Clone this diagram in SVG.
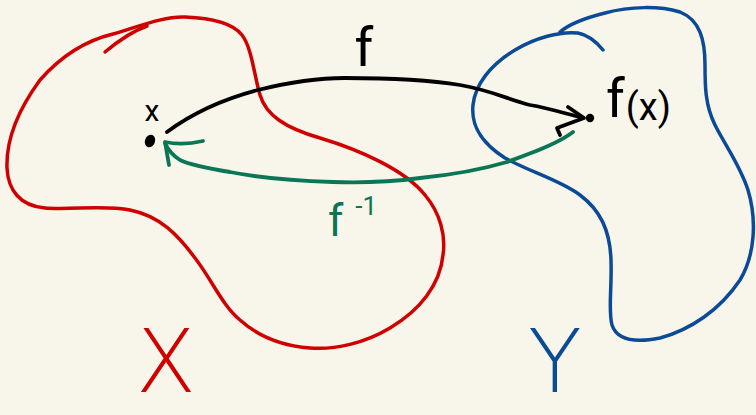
<svg xmlns="http://www.w3.org/2000/svg" width="756" height="415" viewBox="0 0 756 415">
<style>
.set{fill:none;stroke-width:3.5;stroke-linecap:round;stroke-linejoin:round}
.red{stroke:#d00000}
.blue{stroke:#0b4a96}
.arr{fill:none;stroke-width:3.8;stroke-linecap:round;stroke-linejoin:round}
.blk{stroke:#000}
.grn{stroke:#0a7656}
.lbl{font-family:Roboto,"Liberation Sans",sans-serif;font-weight:400}
.big{font-family:"DejaVu Sans ExtraLight","DejaVu Sans",sans-serif;font-weight:200}
</style>
<rect width="756" height="415" fill="#f8f6ea"/>
<g id="set-X">
<path class="set red" d="M 113,34 C 140,26 165,16 185,17 C 210,18 232,22 242,35 C 252,48 254,75 260,95 C 266,115 285,128 320,138 C 360,150 405,170 425,195 C 440,213 446,235 443,255 C 440,285 420,310 390,328 C 365,343 335,350 310,348 C 285,346 260,338 240,320 C 222,305 212,280 195,258 C 178,235 160,216 130,210 C 105,205 70,210 45,208 C 20,206 8,190 7,168 C 6,140 18,110 40,80 C 62,55 88,40 113,34"/>
<path class="set red" d="M 105,52 C 117,42 130,32 147,26"/>
<text class="big" x="166" y="392" font-size="88" fill="#d00000" text-anchor="middle">X</text>
</g>
<g id="set-Y">
<path class="set blue" d="M 603,50 C 595,40 588,35 578,33 C 560,31 535,38 515,50 C 490,65 475,85 473,105 C 471,125 480,142 505,158 C 530,172 560,180 580,195 C 600,210 610,230 611,260 C 612,290 608,310 612,325 C 617,340 635,343 660,338 C 690,330 720,310 740,280 C 755,255 757,220 748,190 C 740,165 725,145 715,125 C 705,105 705,85 705,65 C 705,40 700,20 680,12 C 660,6 630,6 605,13 C 585,18 568,25 560,32"/>
<text class="big" x="555" y="392" font-size="88" fill="#0b4a96" text-anchor="middle">Y</text>
</g>
<g id="point-x">
<ellipse cx="150" cy="141" rx="5" ry="6.5" transform="rotate(20 150 141)" fill="#000"/>
<text class="lbl" x="152" y="121" font-size="30" fill="#000" text-anchor="middle">x</text>
</g>
<g id="point-fx">
<circle cx="590" cy="118" r="4.2" fill="#000"/>
<text class="lbl" x="606" y="117" font-size="54" fill="#000">f<tspan font-size="38" dx="1" dy="3">(x)</tspan></text>
</g>
<g id="connectors">
<g id="edge-f">
<path class="arr blk" d="M 167,132 C 190,115 220,100 258,90 C 290,82 320,78 345,78 C 390,78 430,80 460,85 C 490,90 510,100 530,105 C 548,108 560,112 583,118"/>
<path class="arr blk" d="M 568,107 L 584,118 L 557,128 L 560,135"/>
<text class="lbl" x="364" y="66" font-size="54" fill="#000" text-anchor="middle">f</text>
</g>
<g id="edge-finv">
<path class="arr grn" d="M 573,132 C 560,142 540,150 507,162 C 480,170 450,175 420,178 C 390,182 360,183 333,182 C 300,181 260,178 230,172 C 205,168 190,165 180,160 C 172,155 168,150 165,143"/>
<path class="arr grn" d="M 203,141 C 190,144 175,144 165,142 L 169,165"/>
<text class="lbl" x="328" y="236" font-size="44" fill="#0a7656">f<tspan font-size="26" dx="12" dy="-21">-1</tspan></text>
</g>
</g>
</svg>
